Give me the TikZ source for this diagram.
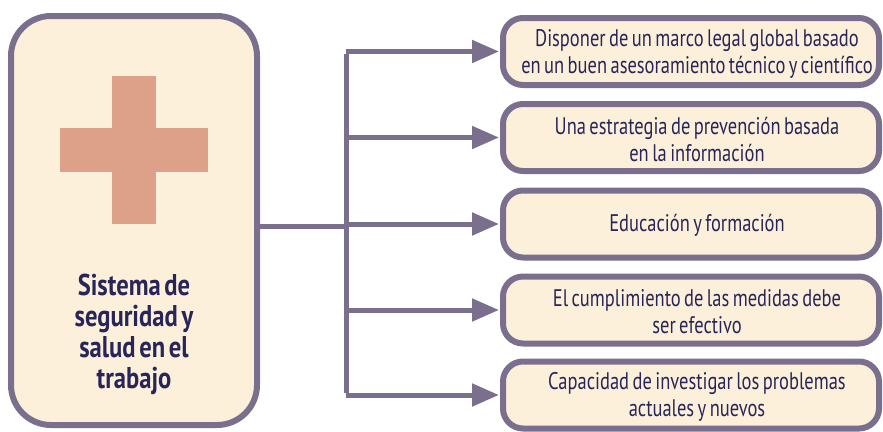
\documentclass[tikz,border=0pt]{standalone}
\usepackage{fontspec}
\setmainfont{PT Sans}[FakeStretch=0.77,WordSpace=0.7]
\newfontfamily\leftfont{PT Sans}[FakeStretch=0.82,WordSpace=0.6]
\usetikzlibrary{arrows.meta}
\definecolor{bord}{RGB}{122,112,142}
\definecolor{cream}{RGB}{252,240,219}
\definecolor{crossc}{RGB}{221,160,136}
\definecolor{txt}{RGB}{40,37,88}
\begin{document}
\begin{tikzpicture}[x=1pt,y=-1pt,
  leftbox/.style={draw=bord,fill=cream,line width=6pt,rounded corners=40pt,minimum width=246pt,minimum height=409pt,inner sep=0pt},
  itembox/.style={draw=bord,fill=cream,line width=6pt,rounded corners=20pt,minimum width=376pt,minimum height=67pt,inner sep=0pt},
  itemtext/.style={align=center,text=txt,inner sep=0pt,font=\fontsize{24}{27}\selectfont},
  conn/.style={draw=bord,line width=5pt},
  arr/.style={conn,-{Triangle[length=27pt,width=22pt]}}]
\useasboundingbox (0,0) rectangle (883,431);
\node[leftbox] (L) at (134,220.5) {};
\fill[crossc] (60,128) rectangle (208,172);
\fill[crossc] (112,76) rectangle (156,224);
\node[text=txt,font=\leftfont\bfseries\fontsize{30}{31}\selectfont,align=center,anchor=north] (LT) at (134,271) {Sistema de\\seguridad y\\salud en el\\trabajo};
\node[itembox] (b1) at (691,51.5) {};
\node[itembox] (b2) at (691,137.5) {};
\node[itembox] (b3) at (691,224) {};
\node[itembox] (b4) at (691,310) {};
\node[itembox] (b5) at (691,395) {};
\node[itemtext] (t1) at ([xshift=6pt,yshift=-2pt]b1.center) {Disponer de un marco legal global basado\\en un buen asesoramiento técnico y científico};
\node[itemtext] (t2) at ([xshift=6pt,yshift=-2pt]b2.center) {Una estrategia de prevención basada\\en la información};
\node[itemtext] (t3) at ([xshift=6pt,yshift=-1pt]b3.center) {Educación y formación};
\node[itemtext] (t4) at ([xshift=6pt,yshift=-2pt]b4.center) {El cumplimiento de las medidas debe\\ser efectivo};
\node[itemtext] (t5) at ([xshift=6pt,yshift=-2pt]b5.center) {Capacidad de investigar los problemas\\actuales y nuevos};
\coordinate (j) at (346,226);
\coordinate (jt) at (346,51.5);
\coordinate (jb) at (346,395);
\draw[conn] (L.east |- j) -- (j);
\draw[conn] ([yshift=-2.5pt]jt) -- ([yshift=2.5pt]jb);
\foreach \b in {b1,b2,b3,b4,b5} \draw[arr] (\b.west -| j) -- ([xshift=-1pt]\b.west);
\end{tikzpicture}
\end{document}
